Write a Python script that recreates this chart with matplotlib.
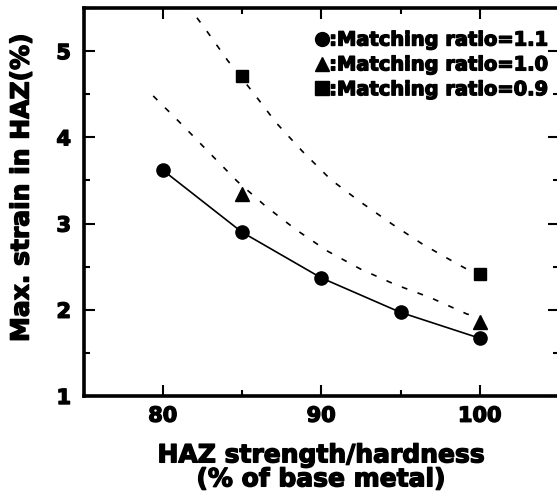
import matplotlib
matplotlib.use('Agg')
import matplotlib.pyplot as plt
import matplotlib.patheffects as pe
from matplotlib.lines import Line2D
from matplotlib.ticker import MultipleLocator

plt.rcParams['font.family'] = ['DejaVu Sans']
plt.rcParams['font.weight'] = 'bold'

# measured points
x_11 = [80, 85, 90, 95, 100]
y_11 = [3.62, 2.90, 2.37, 1.97, 1.67]
x_10 = [85, 100]
y_10 = [3.34, 1.86]
x_09 = [85, 100]
y_09 = [4.71, 2.42]

# dashed trend curves
cx_10 = [79.4, 81.2, 83.0, 84.7, 86.5, 88.4, 90.4, 92.5, 94.7, 96.9, 99.2, 100.0]
cy_10 = [4.48, 4.15, 3.81, 3.49, 3.20, 2.93, 2.68, 2.47, 2.29, 2.14, 1.95, 1.92]
cx_09 = [81.6, 81.9, 82.75, 84.1, 85.7, 87.15, 88.8, 90.6, 92.4, 94.5, 96.4, 98.6, 99.4, 100.0]
cy_09 = [5.55, 5.45, 5.24, 4.89, 4.52, 4.17, 3.84, 3.51, 3.26, 2.99, 2.76, 2.53, 2.45, 2.42]

labels = [':Matching ratio=1.1', ':Matching ratio=1.0', ':Matching ratio=0.9']

thick = [pe.withStroke(linewidth=1.0, foreground='k')]

fig = plt.figure(figsize=(5.57, 5.03), dpi=100)
ax = fig.add_axes([83.5/557, 107/503, (559-83.5)/557, 388/503])

ax.plot(x_11, y_11, '-', color='k', lw=1.2)
ax.plot(cx_10, cy_10, color='k', lw=1.2, dashes=(3.5, 6.5))
ax.plot(cx_09, cy_09, color='k', lw=1.2, dashes=(3.5, 6.5))
ax.plot(x_11, y_11, 'o', color='k', ms=9.5, ls='none')
ax.plot(x_10, y_10, '^', color='k', ms=10, ls='none')
ax.plot(x_09, y_09, 's', color='k', ms=9, ls='none')

ax.set_xlim(75, 105)
ax.set_ylim(1, 5.5)
ax.xaxis.set_major_locator(MultipleLocator(10))
ax.xaxis.set_minor_locator(MultipleLocator(5))
ax.yaxis.set_major_locator(MultipleLocator(1))
ax.yaxis.set_minor_locator(MultipleLocator(0.5))
ax.tick_params(which='both', direction='in', top=True, right=True, width=1.5)
ax.tick_params(which='major', length=8, labelsize=15)
ax.tick_params(axis='x', pad=7)
ax.tick_params(axis='y', pad=9)
ax.tick_params(which='minor', length=4)
for s in ax.spines.values():
    s.set_linewidth(2.6)
for t in ax.get_xticklabels() + ax.get_yticklabels():
    t.set_fontweight('bold')
    t.set_path_effects(thick)

xl = ax.set_xlabel('HAZ strength/hardness\n(% of base metal)', fontsize=18,
                   fontweight='bold', linespacing=1.0, va='top')
ax.xaxis.set_label_coords(0.5, -0.122)
yl = ax.set_ylabel('Max. strain in HAZ(%)', fontsize=18, fontweight='bold')
ax.yaxis.set_label_coords(-0.105, 0.537)
xl.set_path_effects(thick)
yl.set_path_effects(thick)

handles = [Line2D([], [], marker=m, color='k', ls='none', ms=10) for m in ['o', '^', 's']]
leg = ax.legend(handles, labels, loc='upper right', frameon=False,
                handlelength=0.6, handletextpad=0.05, labelspacing=0.3,
                bbox_to_anchor=(0.995, 0.962), borderaxespad=0.0,
                prop={'weight': 'bold', 'size': 14})
for t in leg.get_texts():
    t.set_path_effects(thick)

fig.savefig('out.png', dpi=100)
